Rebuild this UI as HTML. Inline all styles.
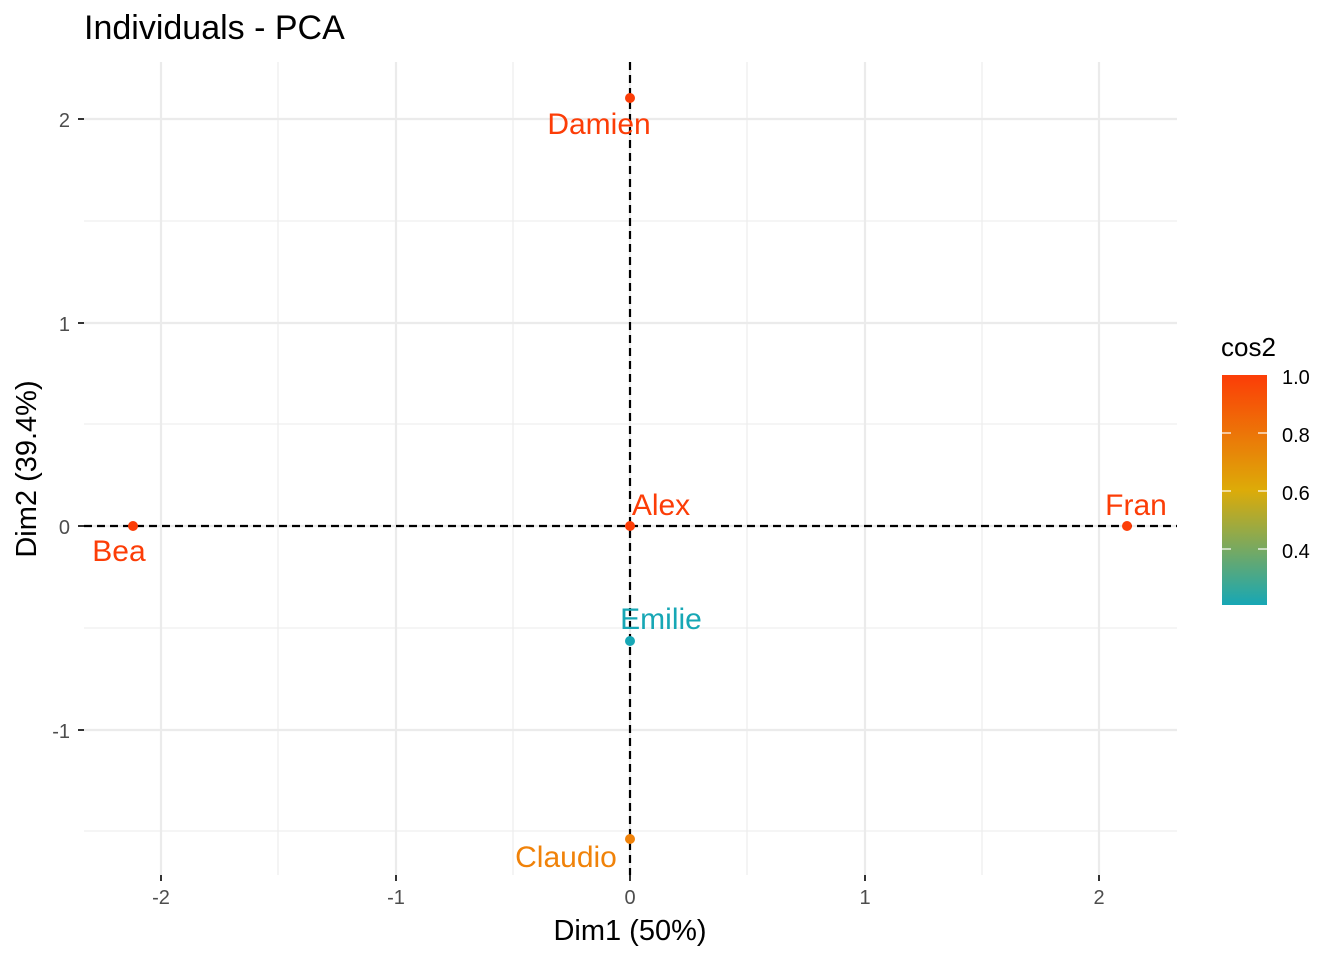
<!DOCTYPE html>
<html><head><meta charset="utf-8"><style>body{margin:0;background:#fff}svg{display:block}text{font-family:"Liberation Sans",Arial,sans-serif}</style></head><body>
<svg width="1344" height="960" viewBox="0 0 1344 960">
<defs><linearGradient id="g" x1="0" y1="0" x2="0" y2="1"><stop offset="0" stop-color="#FC3D07"/><stop offset="0.5" stop-color="#DDAB08"/><stop offset="1" stop-color="#17A7B5"/></linearGradient></defs>
<g stroke="#ebebeb" stroke-width="1.1">
<line x1="278" y1="62" x2="278" y2="875"/><line x1="513" y1="62" x2="513" y2="875"/><line x1="747" y1="62" x2="747" y2="875"/><line x1="982" y1="62" x2="982" y2="875"/>
<line x1="84" y1="221" x2="1177" y2="221"/><line x1="84" y1="424" x2="1177" y2="424"/><line x1="84" y1="628" x2="1177" y2="628"/><line x1="84" y1="831" x2="1177" y2="831"/>
</g>
<g stroke="#ebebeb" stroke-width="2.2">
<line x1="161" y1="62" x2="161" y2="875"/><line x1="396" y1="62" x2="396" y2="875"/><line x1="630" y1="62" x2="630" y2="875"/><line x1="865" y1="62" x2="865" y2="875"/><line x1="1099" y1="62" x2="1099" y2="875"/>
<line x1="84" y1="119" x2="1177" y2="119"/><line x1="84" y1="323" x2="1177" y2="323"/><line x1="84" y1="526" x2="1177" y2="526"/><line x1="84" y1="730" x2="1177" y2="730"/>
</g>
<g stroke="#000" stroke-width="2.2" stroke-dasharray="8,5">
<line x1="84" y1="526" x2="1177" y2="526"/><line x1="630" y1="62" x2="630" y2="875"/>
</g>
<g stroke="#333" stroke-width="2">
<line x1="161" y1="875" x2="161" y2="881"/><line x1="396" y1="875" x2="396" y2="881"/><line x1="630" y1="875" x2="630" y2="881"/><line x1="865" y1="875" x2="865" y2="881"/><line x1="1099" y1="875" x2="1099" y2="881"/>
<line x1="78" y1="119" x2="84" y2="119"/><line x1="78" y1="323" x2="84" y2="323"/><line x1="78" y1="526" x2="84" y2="526"/><line x1="78" y1="730" x2="84" y2="730"/>
</g>
<g font-size="20" fill="#4d4d4d" text-anchor="middle">
<text x="161" y="904">-2</text><text x="396" y="904">-1</text><text x="630" y="904">0</text><text x="865" y="904">1</text><text x="1099" y="904">2</text>
</g>
<g font-size="20" fill="#4d4d4d" text-anchor="end">
<text x="70" y="127">2</text><text x="70" y="331">1</text><text x="70" y="534">0</text><text x="70" y="738">-1</text>
</g>
<text x="630" y="940" font-size="29" text-anchor="middle">Dim1 (50%)</text>
<text transform="translate(36,469) rotate(-90)" font-size="29" text-anchor="middle">Dim2 (39.4%)</text>
<text x="84" y="39" font-size="34">Individuals - PCA</text>
<circle cx="630" cy="98" r="5" fill="#FC3D07"/><circle cx="630" cy="526" r="5" fill="#FC3D07"/><circle cx="133" cy="526" r="5" fill="#FC3D07"/><circle cx="1127" cy="526" r="5" fill="#FC3D07"/><circle cx="630" cy="641" r="5" fill="#17A7B5"/><circle cx="630" cy="839" r="5" fill="#F08209"/>
<g font-size="30">
<text x="599" y="134" fill="#FC3D07" text-anchor="middle">Damien</text>
<text x="661" y="515" fill="#FC3D07" text-anchor="middle">Alex</text>
<text x="119" y="561" fill="#FC3D07" text-anchor="middle">Bea</text>
<text x="1136" y="515" fill="#FC3D07" text-anchor="middle">Fran</text>
<text x="661" y="629" fill="#17A7B5" text-anchor="middle">Emilie</text>
<text x="566" y="867" fill="#F08209" text-anchor="middle">Claudio</text>
</g>
<text x="1221" y="356" font-size="26">cos2</text>
<rect x="1222" y="375" width="45" height="230" fill="url(#g)"/>
<g stroke="#fff" stroke-width="1.2">
<line x1="1222" y1="433" x2="1231" y2="433"/><line x1="1258" y1="433" x2="1267" y2="433"/>
<line x1="1222" y1="491" x2="1231" y2="491"/><line x1="1258" y1="491" x2="1267" y2="491"/>
<line x1="1222" y1="549" x2="1231" y2="549"/><line x1="1258" y1="549" x2="1267" y2="549"/>
</g>
<g font-size="20" fill="#000">
<text x="1282" y="384">1.0</text><text x="1282" y="442">0.8</text><text x="1282" y="500">0.6</text><text x="1282" y="558">0.4</text>
</g>
</svg>
</body></html>
